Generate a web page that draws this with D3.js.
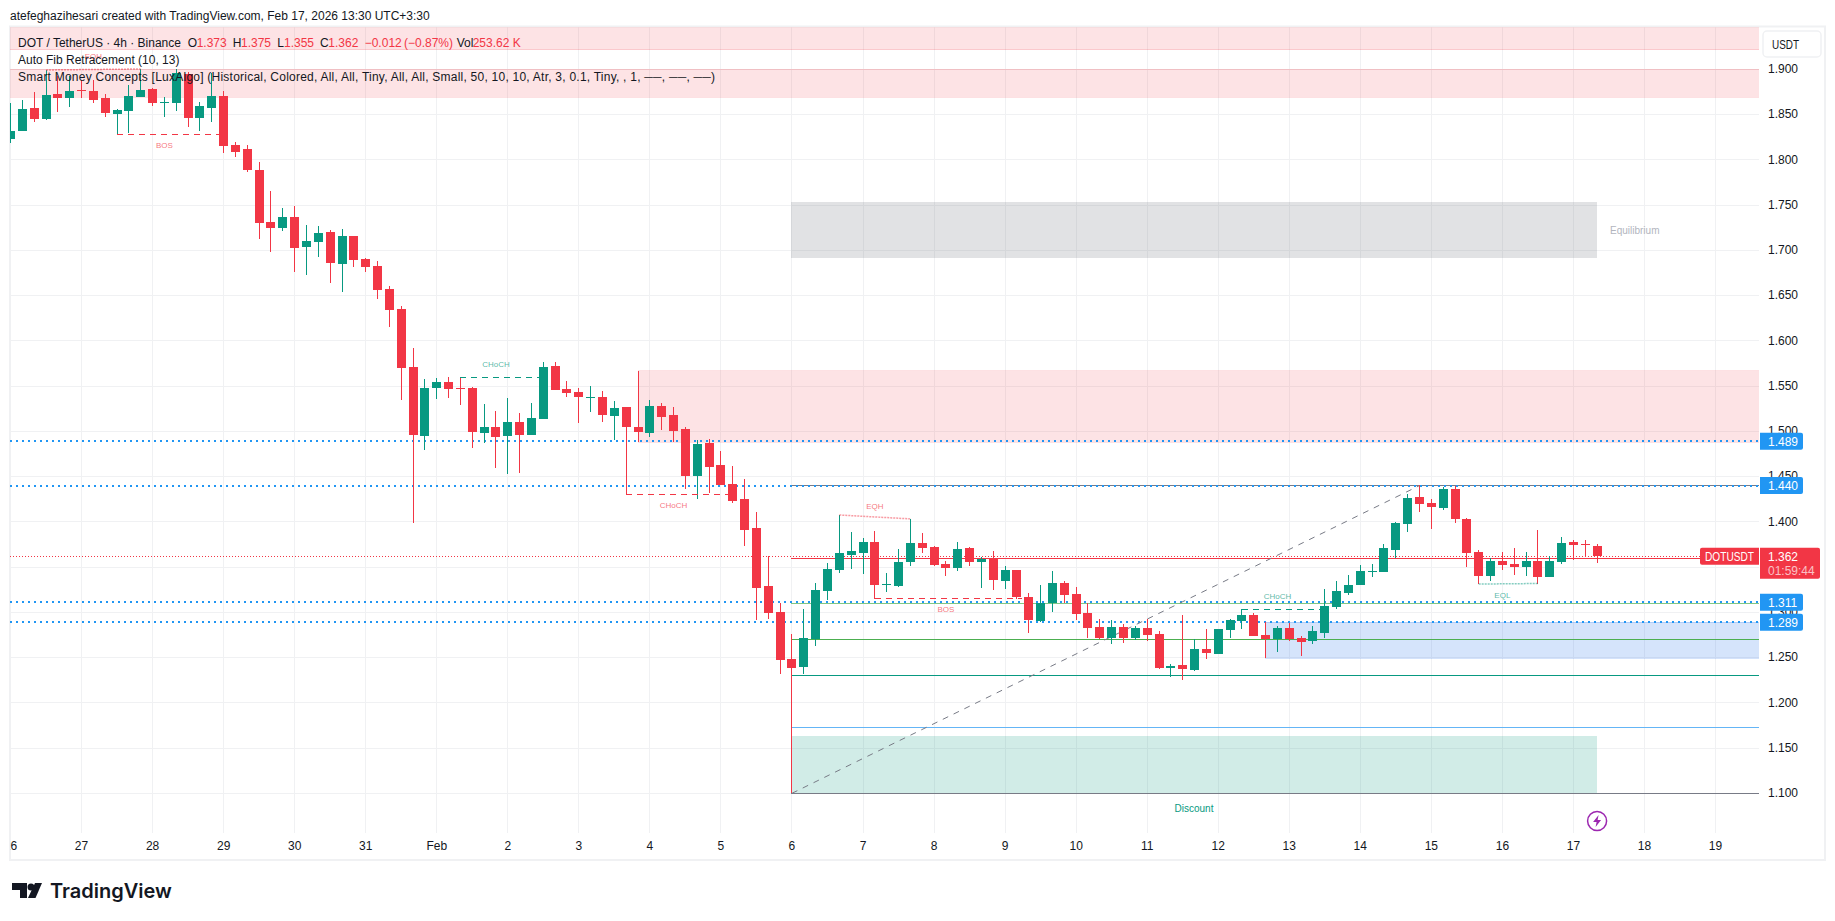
<!DOCTYPE html>
<html>
<head>
<meta charset="utf-8">
<style>
  html, body { margin: 0; background: #fff; }
  text { font-family: "Liberation Sans", Roboto, sans-serif; white-space: pre; }
</style>
<script src="https://cdn.jsdelivr.net/npm/d3@7"></script>
</head>
<body>
<svg id="chart" width="1835" height="921"></svg>
<script>
// 4h candles, index 0 = Jan 26 00:00
const opens = [
  1.8229,1.8318,1.8572,1.845,1.8727,1.8682,1.8767,1.876,1.8682,1.8506,
  1.8539,1.8693,1.8782,1.8633,1.8627,1.8947,1.8461,1.8572,1.8704,1.8163,
  1.8119,1.7887,1.7312,1.7246,1.7367,1.7036,1.7091,1.7202,1.6848,1.7157,
  1.6903,1.6826,1.6572,1.6351,1.571,1.4948,1.5478,1.5544,1.5478,1.5478,
  1.4981,1.5047,1.4948,1.5102,1.4959,1.5135,1.5721,1.5467,1.5434,1.5375,
  1.5379,1.5169,1.5268,1.5047,1.4981,1.5279,1.518,1.5025,1.4506,1.487,
  1.4627,1.4417,1.4251,1.3931,1.329,1.3003,1.2484,1.2395,1.2705,1.3235,
  1.3467,1.3633,1.3655,1.3776,1.3305,1.329,1.3555,1.3765,1.3721,1.3533,
  1.3489,1.371,1.3555,1.3589,1.3345,1.3467,1.3168,1.2903,1.3102,1.3323,
  1.3202,1.2992,1.2837,1.2716,1.2837,1.2716,1.2826,1.276,1.2384,1.2417,
  1.2362,1.2594,1.2539,1.2804,1.2903,1.297,1.2749,1.2705,1.2826,1.2716,
  1.2683,1.2771,1.3058,1.3213,1.3301,1.3449,1.3445,1.3688,1.3975,1.4274,
  1.4207,1.4152,1.4362,1.403,1.3666,1.34,1.3566,1.3533,1.35,1.3566,
  1.3389,1.3555,1.3776,1.3753,1.373
];
const highs = [
  1.8627,1.866,1.8749,1.8992,1.8925,1.892,1.888,1.888,1.8727,1.856,
  1.8826,1.9003,1.8793,1.8693,1.90,1.8973,1.8638,1.8955,1.876,1.8196,
  1.8163,1.7975,1.7655,1.7467,1.7489,1.7279,1.7268,1.7224,1.7235,1.7157,
  1.6914,1.6881,1.6605,1.6385,1.592,1.5577,1.5588,1.56,1.56,1.5485,
  1.5304,1.5224,1.5368,1.5202,1.5315,1.5765,1.5765,1.5555,1.5478,1.55,
  1.5445,1.5335,1.5268,1.5666,1.5346,1.5312,1.5268,1.5047,1.4904,1.4915,
  1.4782,1.4616,1.4472,1.4108,1.3621,1.3102,1.276,1.3036,1.3323,1.3544,
  1.4075,1.3887,1.382,1.3898,1.3433,1.3699,1.4032,1.3876,1.3732,1.3566,
  1.3776,1.3721,1.3611,1.3677,1.3511,1.3467,1.3213,1.3301,1.3456,1.3345,
  1.3279,1.3102,1.2925,1.2914,1.2871,1.2849,1.2925,1.2793,1.2428,1.297,
  1.2705,1.2815,1.2815,1.2925,1.3036,1.2992,1.2892,1.2849,1.2882,1.2738,
  1.2849,1.3257,1.3345,1.3412,1.3522,1.3533,1.3754,1.3997,1.4307,1.4406,
  1.4252,1.4384,1.4395,1.4041,1.3688,1.36,1.3666,1.371,1.3666,1.3908,
  1.3621,1.3831,1.3798,1.3798,1.375
];
const lows = [
  1.8185,1.8318,1.8417,1.8439,1.8528,1.8583,1.8682,1.8627,1.8472,1.8281,
  1.8296,1.8693,1.8594,1.8472,1.8539,1.8362,1.8318,1.8417,1.8075,1.803,
  1.7865,1.7124,1.6981,1.7213,1.676,1.6727,1.6925,1.6638,1.6535,1.6815,
  1.676,1.6461,1.6152,1.5346,1.3987,1.4793,1.5357,1.5368,1.529,1.4815,
  1.487,1.4595,1.4528,1.4539,1.4959,1.5135,1.5456,1.5379,1.5091,1.5213,
  1.5102,1.4904,1.4303,1.488,1.4937,1.5014,1.488,1.4362,1.4252,1.4318,
  1.4406,1.4207,1.3732,1.2914,1.2925,1.2318,1.10,1.2318,1.2627,1.3135,
  1.3433,1.3478,1.3422,1.3146,1.3224,1.3279,1.3511,1.3655,1.3511,1.34,
  1.3456,1.3511,1.3268,1.3246,1.3257,1.3146,1.2771,1.2892,1.3003,1.3102,
  1.2914,1.2716,1.2705,1.2649,1.266,1.2694,1.2683,1.2373,1.2285,1.2252,
  1.2351,1.2484,1.2539,1.2716,1.2815,1.2738,1.2495,1.2561,1.2683,1.2517,
  1.2649,1.2716,1.3036,1.3191,1.3301,1.339,1.3445,1.36,1.3887,1.4108,
  1.392,1.413,1.3986,1.35,1.3312,1.3345,1.3467,1.3412,1.34,1.3318,
  1.3389,1.3533,1.3577,1.3614,1.355
];
const closes = [
  1.8318,1.8561,1.845,1.8715,1.8682,1.876,1.8763,1.866,1.8517,1.855,
  1.8704,1.8771,1.8627,1.8636,1.8959,1.8461,1.8594,1.8704,1.8152,1.8086,
  1.7887,1.7301,1.7246,1.7367,1.7025,1.7102,1.719,1.6859,1.7157,1.6892,
  1.6815,1.6561,1.634,1.5699,1.4959,1.5478,1.5544,1.5467,1.547,1.4992,
  1.5047,1.4937,1.5102,1.4959,1.5146,1.571,1.5456,1.5423,1.5379,1.5379,
  1.518,1.5257,1.5047,1.4992,1.5279,1.5157,1.5003,1.4506,1.4859,1.4605,
  1.4406,1.4229,1.3909,1.3268,1.2992,1.2472,1.2384,1.2716,1.3246,1.3478,
  1.3655,1.3677,1.3776,1.3301,1.3312,1.3555,1.3765,1.371,1.3522,1.3489,
  1.3699,1.3555,1.3589,1.3356,1.3467,1.3168,1.2914,1.3102,1.3323,1.319,
  1.2981,1.2826,1.2716,1.2837,1.2716,1.2826,1.2749,1.2384,1.2406,1.2373,
  1.2594,1.255,1.2815,1.2914,1.297,1.2738,1.2705,1.2826,1.2705,1.2672,
  1.2793,1.3069,1.3235,1.3301,1.3456,1.3456,1.371,1.3986,1.4263,1.4196,
  1.4163,1.4362,1.403,1.3655,1.34,1.3566,1.3522,1.35,1.3566,1.3389,
  1.3566,1.3765,1.3743,1.3746,1.362
];

const dayLabels = ['26','27','28','29','30','31','Feb','2','3','4','5','6','7','8','9','10','11','12','13','14','15','16','17','18','19'];
const priceTicks = [1.9,1.85,1.8,1.75,1.7,1.65,1.6,1.55,1.5,1.45,1.4,1.35,1.3,1.25,1.2,1.15,1.1];

// horizontal rays with axis tags
const rayLevels = [1.489, 1.44, 1.311, 1.289];
// auto fib: anchors and levels
const fibAnchor = [[66, 1.10], [119, 1.44]];
const fibLevels = [1.44, 1.3598, 1.3101, 1.27, 1.2299, 1.1728, 1.10];
const fibColors = ['#787b86', '#f23645', '#81c784', '#4caf50', '#089981', '#64b5f6', '#787b86'];

// zones as [start index, end index or null for open ended, top, bottom]
const supplyZones = [[0, null, 1.9467, 1.9216], [0, null, 1.8999, 1.869], [53, null, 1.5666, 1.4878]];
const demandZones = [[106, null, 1.289, 1.2491]];
const equilibriumZone = [66, 134, 1.7533, 1.6914];
const discountZone = [66, 134, 1.1632, 1.10];

// structure breaks as [start index, end index, price]
const bearBreaks = [[9, 18, 1.8281, 'BOS'], [52, 61, 1.4303, 'CHoCH'], [73, 85.4, 1.3154, 'BOS']];
const bullBreaks = [[38, 45, 1.5596, 'CHoCH'], [104, 111, 1.3036, 'CHoCH']];
// equal highs / lows as [start index, p1, end index, p2]
const equalHighs = [[3, 1.8992, 11, 1.9003], [70, 1.4075, 76, 1.4032]];
const equalLows = [[124, 1.3312, 129, 1.3318]];

const lastPrice = 1.362;

const green = '#089981', red = '#f23645', textCol = '#131722', gridCol = '#f0f1f3';
const plotL = 10, plotR = 1759, plotT = 27, plotB = 833;

const x = d3.scaleLinear().domain([0, 144]).range([10.5, 1715.5]);
const y = d3.scaleLinear().domain([1.85, 1.10]).range([114.5, 793.3]);
const px = i => Math.floor(x(i));

const svg = d3.select('#chart');
svg.append('rect').attr('width', 1835).attr('height', 921).attr('fill', '#fff');

const defs = svg.append('defs');
defs.append('clipPath').attr('id', 'plot').append('rect')
  .attr('x', plotL).attr('y', plotT).attr('width', plotR - plotL).attr('height', plotB - plotT);
defs.append('clipPath').attr('id', 'xlab').append('rect')
  .attr('x', plotL).attr('y', plotB).attr('width', plotR - plotL).attr('height', 27);

// credit line
svg.append('text').attr('x', 10).attr('y', 19.5).attr('font-size', 12).attr('fill', textCol)
  .text('atefeghazihesari created with TradingView.com, Feb 17, 2026 13:30 UTC+3:30');

// frame
svg.append('rect').attr('x', 10).attr('y', 26.5).attr('width', 1815).attr('height', 833.5)
  .attr('fill', 'none').attr('stroke', '#f0f1f3').attr('stroke-width', 2);

const plot = svg.append('g').attr('clip-path', 'url(#plot)');

// grid comes from the axes
const dayIdx = dayLabels.map((d, i) => i * 6);
plot.append('g').attr('transform', `translate(0,${plotB})`)
  .call(d3.axisBottom(x).offset(0).tickValues(dayIdx).tickSize(-(plotB - plotT)).tickFormat(''))
  .call(g => g.select('.domain').remove())
  .call(g => g.selectAll('line').attr('stroke', gridCol).attr('shape-rendering', 'crispEdges'));
plot.append('g').attr('transform', `translate(${plotR},0)`)
  .call(d3.axisLeft(y).offset(0).tickValues(priceTicks).tickSize(plotR - plotL).tickFormat(''))
  .call(g => g.select('.domain').remove())
  .call(g => g.selectAll('line').attr('stroke', gridCol).attr('shape-rendering', 'crispEdges'));

function zone(z, fill, edge) {
  const x0 = px(z[0]), x1 = z[1] === null ? plotR : px(z[1]);
  plot.append('rect').attr('x', x0).attr('y', y(z[2]))
    .attr('width', x1 - x0).attr('height', y(z[3]) - y(z[2]))
    .attr('fill', fill).attr('shape-rendering', 'crispEdges');
  if (edge) {
    [z[2], z[3]].forEach(p => plot.append('line')
      .attr('x1', x0).attr('x2', x1).attr('y1', y(p)).attr('y2', y(p))
      .attr('stroke', edge).attr('shape-rendering', 'crispEdges'));
  }
}
supplyZones.forEach(z => zone(z, 'rgba(242,54,69,0.14)', 'rgba(242,54,69,0.15)'));
demandZones.forEach(z => zone(z, 'rgba(33,110,235,0.19)', 'rgba(33,110,235,0.2)'));
zone(equilibriumZone, 'rgba(120,123,134,0.22)');
zone(discountZone, 'rgba(8,153,129,0.19)');

// fib level lines
fibLevels.forEach((p, i) => plot.append('line')
  .attr('x1', px(66)).attr('x2', plotR).attr('y1', y(p)).attr('y2', y(p))
  .attr('stroke', fibColors[i]).attr('stroke-width', i === 6 ? 1.5 : 1).attr('shape-rendering', 'crispEdges'));

// dotted rays
rayLevels.forEach(p => plot.append('line')
  .attr('x1', plotL).attr('x2', plotR).attr('y1', y(p)).attr('y2', y(p))
  .attr('stroke', '#2196f3').attr('stroke-width', 2).attr('stroke-dasharray', '2 4').attr('shape-rendering', 'crispEdges'));

// last price line
plot.append('line').attr('x1', plotL).attr('x2', plotR).attr('y1', y(lastPrice)).attr('y2', y(lastPrice))
  .attr('stroke', red).attr('stroke-dasharray', '1 2').attr('shape-rendering', 'crispEdges');

// fib trend line
plot.append('line')
  .attr('x1', x(fibAnchor[0][0])).attr('y1', y(fibAnchor[0][1]))
  .attr('x2', x(fibAnchor[1][0])).attr('y2', y(fibAnchor[1][1]))
  .attr('stroke', '#787b86').attr('stroke-dasharray', '6 6');

// candles
const candles = plot.append('g').selectAll('g').data(opens).join('g')
  .attr('fill', (d, i) => closes[i] >= d ? green : red);
candles.append('rect').attr('x', (d, i) => px(i)).attr('width', 1)
  .attr('y', (d, i) => y(highs[i])).attr('height', (d, i) => y(lows[i]) - y(highs[i]))
  .attr('shape-rendering', 'crispEdges');
candles.append('rect').attr('x', (d, i) => px(i) - 4).attr('width', 9)
  .attr('y', (d, i) => y(Math.max(d, closes[i])))
  .attr('height', (d, i) => Math.max(1, Math.abs(y(d) - y(closes[i]))))
  .attr('shape-rendering', 'crispEdges');

// structure labels
function tinyLabel(i, yy, s, col) {
  plot.append('text').attr('x', x(i)).attr('y', yy).attr('text-anchor', 'middle')
    .attr('dominant-baseline', 'central').attr('font-size', 8).attr('fill', col).attr('fill-opacity', 0.7).text(s);
}
function breakLine(b, col, dy) {
  plot.append('line').attr('x1', x(b[0])).attr('x2', x(b[1])).attr('y1', y(b[2])).attr('y2', y(b[2]))
    .attr('stroke', col).attr('stroke-dasharray', '6 5').attr('shape-rendering', 'crispEdges');
  tinyLabel(Math.floor((b[0] + b[1]) / 2), y(b[2]) + dy, b[3], col);
}
bearBreaks.forEach(b => breakLine(b, red, 11));
bullBreaks.forEach(b => breakLine(b, green, -12.5));
function equalLine(e, col, dy, s) {
  plot.append('line').attr('x1', x(e[0])).attr('y1', y(e[1])).attr('x2', x(e[2])).attr('y2', y(e[3]))
    .attr('stroke', col).attr('stroke-opacity', 0.5).attr('stroke-width', 1.5).attr('stroke-dasharray', '2 1');
  tinyLabel(Math.floor((e[0] + e[2]) / 2), y(e[1]) + dy, s, col);
}
equalHighs.forEach((e, i) => equalLine(e, red, i === 0 ? -13 : -8, 'EQH'));
equalLows.forEach(e => equalLine(e, green, 11, 'EQL'));

plot.append('text').attr('x', 1610).attr('y', 230).attr('dominant-baseline', 'central')
  .attr('font-size', 10).attr('fill', '#b2b5be').text('Equilibrium');
plot.append('text').attr('x', 1194).attr('y', 808).attr('text-anchor', 'middle').attr('dominant-baseline', 'central')
  .attr('font-size', 10).attr('fill', green).text('Discount');

// bolt marker
const bolt = plot.append('g').attr('transform', `translate(${x(134)},821)`);
bolt.append('circle').attr('r', 9.5).attr('fill', '#fff').attr('stroke', '#9c27b0').attr('stroke-width', 1.5);
bolt.append('path').attr('d', 'M1.5,-6 L-4,1 L-0.5,1 L-1.5,6 L4,-1 L0.5,-1 Z').attr('fill', '#9c27b0');

// legend
const ohlcvTexts = ['DOT / TetherUS · 4h · Binance', 'O', '1.373', 'H', '1.375', 'L', '1.355', 'C', '1.362', '−0.012', '(−0.87%)', 'Vol', '253.62 K'];
const ohlcvX = [18, 187.7, 196.7, 232.7, 241, 277.3, 284, 320, 328.3, 364.7, 404, 456.7, 472.7];
const ohlcvIsValue = [0, 0, 1, 0, 1, 0, 1, 0, 1, 1, 1, 0, 1];
ohlcvTexts.forEach((s, i) => svg.append('text').attr('x', ohlcvX[i]).attr('y', 46.5).attr('font-size', 12)
  .attr('fill', ohlcvIsValue[i] ? red : textCol).text(s));
svg.append('text').attr('x', 18).attr('y', 63.5).attr('font-size', 12).attr('fill', textCol)
  .text('Auto Fib Retracement (10, 13)');
svg.append('text').attr('x', 18).attr('y', 80.5).attr('font-size', 12).attr('fill', textCol)
  .attr('textLength', 697).attr('lengthAdjust', 'spacing')
  .text('Smart Money Concepts [LuxAlgo] (Historical, Colored, All, All, Tiny, All, All, Small, 50, 10, 10, Atr, 3, 0.1, Tiny, , 1, ──, ──, ──)');

// axes labels
svg.append('g').attr('clip-path', 'url(#xlab)').append('g').attr('transform', `translate(0,${plotB})`)
  .call(d3.axisBottom(x).offset(0).tickValues(dayIdx).tickSize(0).tickPadding(8).tickFormat((d, i) => dayLabels[i]))
  .call(g => g.select('.domain').remove())
  .call(g => g.selectAll('text').attr('font-size', 12).attr('fill', textCol).attr('font-family', '"Liberation Sans", sans-serif'));
svg.append('g').attr('transform', `translate(${plotR},0)`)
  .call(d3.axisRight(y).offset(0).tickValues(priceTicks).tickSize(0).tickPadding(9).tickFormat(d3.format('.3f')))
  .call(g => g.select('.domain').remove())
  .call(g => g.selectAll('text').attr('font-size', 12).attr('fill', textCol).attr('font-family', '"Liberation Sans", sans-serif'));

// USDT button
svg.append('rect').attr('x', 1763).attr('y', 31).attr('width', 58).attr('height', 26).attr('rx', 4)
  .attr('fill', '#fff').attr('stroke', '#f0f1f3').attr('stroke-width', 1.5);
svg.append('text').attr('x', 1772).attr('y', 49).attr('font-size', 12).attr('fill', textCol)
  .attr('textLength', 27).attr('lengthAdjust', 'spacingAndGlyphs').text('USDT');

// blue tags
rayLevels.forEach(p => {
  svg.append('path').attr('fill', '#2196f3')
    .attr('d', `M${plotR + 1},${y(p) - 8.5}h41a2,2 0 0 1 2,2v13a2,2 0 0 1 -2,2h-41z`);
  svg.append('text').attr('x', 1768).attr('y', y(p) + 4.5).attr('font-size', 12).attr('fill', '#fff').text(d3.format('.3f')(p));
});

// last price tags
const lastY = y(lastPrice);
svg.append('path').attr('fill', red)
  .attr('d', `M1702,${lastY - 8.5}h57v17h-57a2,2 0 0 1 -2,-2v-13a2,2 0 0 1 2,-2z`);
svg.append('text').attr('x', 1705).attr('y', lastY + 4.5).attr('font-size', 12).attr('fill', '#fff')
  .attr('textLength', 49).attr('lengthAdjust', 'spacingAndGlyphs').text('DOTUSDT');
svg.append('path').attr('fill', red)
  .attr('d', `M1760,${lastY - 8.5}h58a2,2 0 0 1 2,2v27a2,2 0 0 1 -2,2h-58z`);
svg.append('text').attr('x', 1768).attr('y', lastY + 4.5).attr('font-size', 12).attr('fill', '#fff').text('1.362');
svg.append('text').attr('x', 1768).attr('y', lastY + 19).attr('font-size', 12).attr('fill', '#fff').attr('fill-opacity', 0.7).text('01:59:44');

// logo
const logo = svg.append('g').attr('fill', '#131722');
logo.append('path').attr('d', 'M12,883h15v15h-7v-8h-8z');
logo.append('circle').attr('cx', 31).attr('cy', 887).attr('r', 3.5);
logo.append('path').attr('d', 'M35,883h7l-6.5,15h-7.5z');
logo.append('text').attr('x', 50).attr('y', 898).attr('font-size', 20).attr('font-weight', 600)
  .style('font-family', 'Inter, sans-serif').text('TradingView');
</script>
</body>
</html>
